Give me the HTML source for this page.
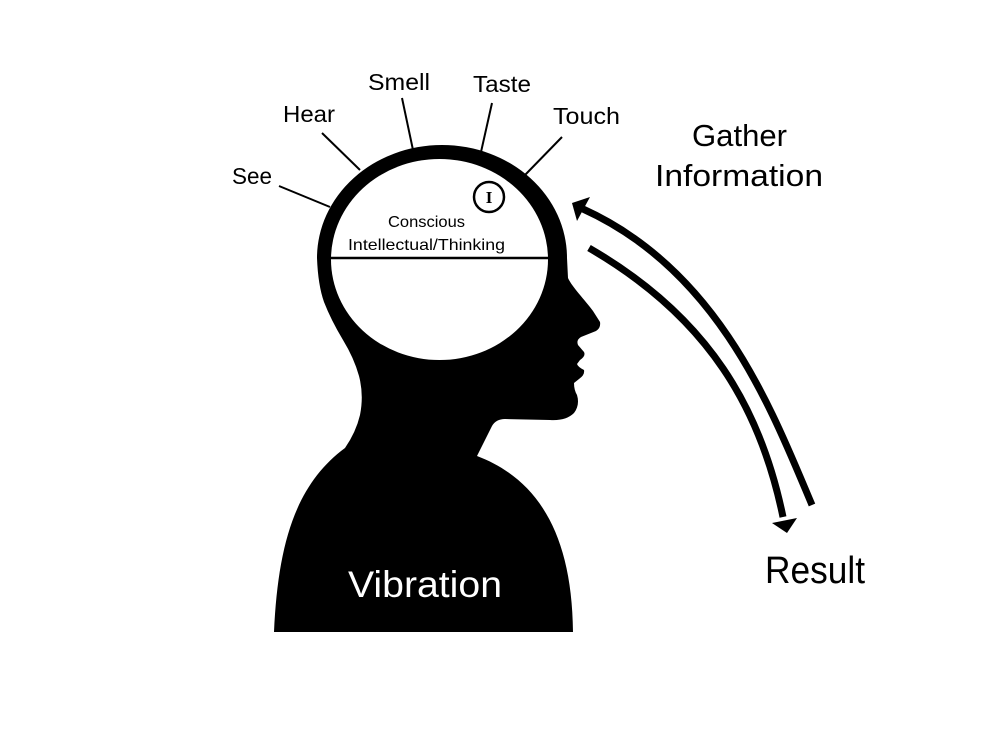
<!DOCTYPE html>
<html>
<head>
<meta charset="utf-8">
<style>
  html,body{margin:0;padding:0;background:#fff;}
  svg{display:block;}
  text{font-family:"Liberation Sans", sans-serif;}
</style>
</head>
<body>
<svg width="1000" height="750" viewBox="0 0 1000 750" xmlns="http://www.w3.org/2000/svg">
  <rect width="1000" height="750" fill="#fff"/>

  <!-- sensor lines -->
  <g stroke="#000" stroke-width="2" fill="none">
    <line x1="279" y1="186" x2="330" y2="207"/>
    <line x1="322" y1="133" x2="360" y2="170"/>
    <line x1="402" y1="98" x2="413" y2="150"/>
    <line x1="492" y1="103" x2="481" y2="152"/>
    <line x1="562" y1="137" x2="525" y2="175"/>
  </g>

  <!-- head silhouette -->
  <path fill="#000" d="
    M 317,258
    A 125,113 0 0 1 567,258
    L 568,278
    C 572,287 585,300 593,311
    L 600,322
    Q 601,328 596,331
    L 581,337
    Q 576,340 578,345
    L 584,352
    Q 586,356 580,360
    L 577,364
    Q 578,367 584,370
    Q 585,375 579,379
    L 574,383
    Q 574,390 577,395
    Q 580,405 574,413
    Q 566,421 550,420
    L 505,419
    Q 496,419 492,426
    L 477,456
    C 535,478 572,530 573,632
    L 274,632
    C 278,545 295,485 345,448
    Q 356,432 360,415
    Q 364,395 359,376
    Q 354,358 343,340
    Q 331,320 324,302
    Q 318,285 317,258 Z"/>

  <!-- inner white brain area -->
  <ellipse cx="439.5" cy="259.5" rx="108.5" ry="100.5" fill="#fff"/>
  <line x1="331" y1="258" x2="548" y2="258" stroke="#000" stroke-width="2.5"/>

  <!-- I circle -->
  <circle cx="489" cy="197" r="15" fill="none" stroke="#000" stroke-width="2.5"/>
  <text x="489" y="203" text-anchor="middle" font-size="17" font-weight="bold" style="font-family:'Liberation Serif',serif;">I</text>

  <!-- inner labels -->
  <text x="388" y="227" font-size="16" textLength="77" lengthAdjust="spacingAndGlyphs">Conscious</text>
  <text x="348" y="250" font-size="16" textLength="157" lengthAdjust="spacingAndGlyphs">Intellectual/Thinking</text>

  <!-- sense labels -->
  <text x="232" y="184" font-size="23" textLength="40" lengthAdjust="spacingAndGlyphs">See</text>
  <text x="283" y="122" font-size="23" textLength="52" lengthAdjust="spacingAndGlyphs">Hear</text>
  <text x="368" y="90" font-size="23" textLength="62" lengthAdjust="spacingAndGlyphs">Smell</text>
  <text x="473" y="92" font-size="23" textLength="58" lengthAdjust="spacingAndGlyphs">Taste</text>
  <text x="553" y="124" font-size="23" textLength="67" lengthAdjust="spacingAndGlyphs">Touch</text>

  <!-- Gather Information -->
  <text x="692" y="146" font-size="31" textLength="95" lengthAdjust="spacingAndGlyphs">Gather</text>
  <text x="655" y="186" font-size="31" textLength="168" lengthAdjust="spacingAndGlyphs">Information</text>

  <!-- Result -->
  <text x="765" y="583" font-size="38" textLength="100" lengthAdjust="spacingAndGlyphs">Result</text>

  <!-- Vibration -->
  <text x="348" y="597" font-size="37" fill="#fff" textLength="154" lengthAdjust="spacingAndGlyphs">Vibration</text>

  <!-- arrows -->
  <g stroke="#000" stroke-width="7" fill="none" stroke-linecap="butt">
    <path d="M 583,209 C 720,271 773,413 812,505"/>
    <path d="M 589,248 C 710,318 761,410 783,517"/>
  </g>
  <polygon points="572,203 590,197 577,221" fill="#000"/>
  <polygon points="787,533 772,523 797,518" fill="#000"/>
</svg>
</body>
</html>
